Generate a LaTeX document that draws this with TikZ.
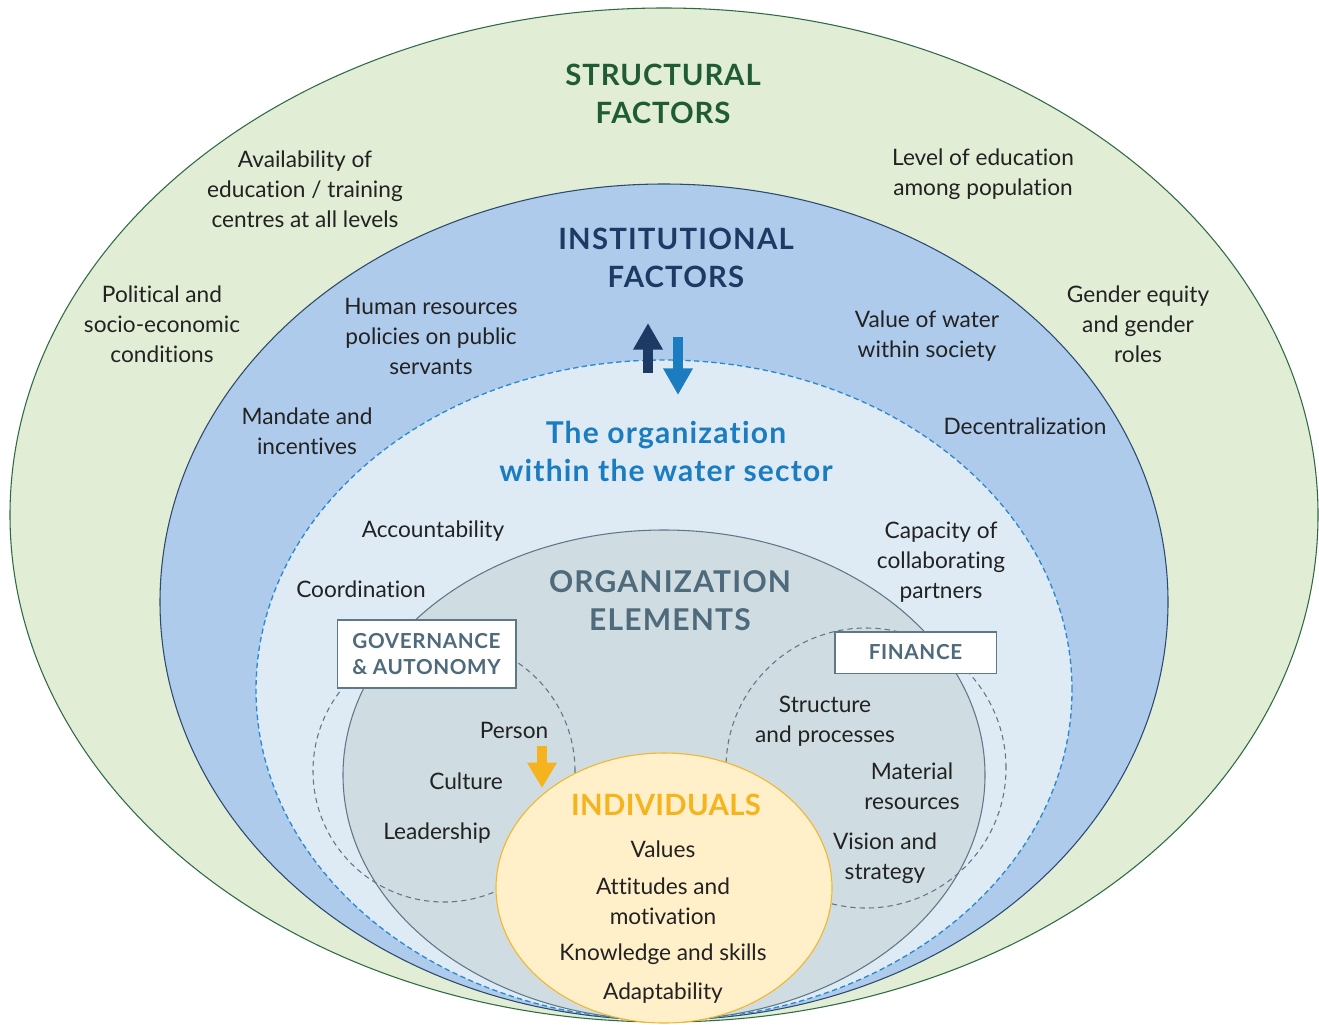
\documentclass[tikz,border=0pt]{standalone}
\usepackage{fontspec}
\setmainfont{Lato}[Ligatures=NoCommon]
\usetikzlibrary{arrows.meta}

\definecolor{structFill}{HTML}{E2EDD6}
\definecolor{structLine}{HTML}{2E6B45}
\definecolor{structText}{HTML}{1F5C36}
\definecolor{instFill}{HTML}{AFCBEC}
\definecolor{instLine}{HTML}{2B4A6E}
\definecolor{instText}{HTML}{1C3A63}
\definecolor{orgFill}{HTML}{DEEBF5}
\definecolor{orgLine}{HTML}{2A8AD0}
\definecolor{orgText}{HTML}{1B7DC0}
\definecolor{elemFill}{HTML}{CFDCE1}
\definecolor{elemLine}{HTML}{5F7888}
\definecolor{elemText}{HTML}{4E6A7B}
\definecolor{indFill}{HTML}{FFF0CA}
\definecolor{indLine}{HTML}{F5B52A}
\definecolor{indText}{HTML}{F5B31E}
\definecolor{bodyText}{HTML}{222222}

\tikzset{
  label text/.style={align=center, text=bodyText, font=\fontsize{17}{22.5}\selectfont, inner sep=0pt},
  title text/.style={align=center, font=\fontsize{22.5}{28.5}\selectfont\bfseries\addfontfeatures{LetterSpace=4}, inner sep=0pt},
  element box/.style={draw=elemLine, line width=1pt, fill=white, text=elemText, align=center,
    font=\fontsize{15.5}{19}\selectfont\bfseries\addfontfeatures{LetterSpace=3}, inner sep=0pt},
  ring/.style={line width=0.8pt},
  sub circle/.style={draw=elemLine, line width=0.8pt, dash pattern=on 4pt off 3pt},
  flow arrow/.style={line width=7.5pt, -{Triangle[width=21pt,length=20pt]}},
}

\begin{document}
\begin{tikzpicture}[x=0.75pt, y=-0.75pt]
\useasboundingbox (0,0) rectangle (1319,1024);
\fill[white] (0,0) rectangle (1319,1024);

% nested factor levels
\draw[ring, fill=structFill, draw=structLine] (664,515) ellipse [x radius=490.5pt, y radius=380.25pt];
\draw[ring, fill=instFill, draw=instLine] (664,602) ellipse [x radius=378pt, y radius=313.5pt];
\draw[line width=1pt, fill=orgFill, draw=orgLine, dash pattern=on 4pt off 2.5pt] (664,690) ellipse [x radius=306pt, y radius=247.5pt];
\draw[ring, fill=elemFill, draw=elemLine] (664,775) ellipse [x radius=240.75pt, y radius=183.75pt];

% element groups
\draw[sub circle] (444,771) circle [radius=98.25pt];
\draw[sub circle] (866,768) circle [radius=105pt];

% individuals
\draw[ring, fill=indFill, draw=indLine] (664,888) ellipse [x radius=126pt, y radius=101.25pt];

% level titles
\node[title text, text=structText, font=\fontsize{22}{28.5}\selectfont\bfseries\addfontfeatures{LetterSpace=3}] (structTitle) at (663,94) {STRUCTURAL\\FACTORS};
\node[title text, text=instText, font=\fontsize{22}{28.5}\selectfont\bfseries\addfontfeatures{LetterSpace=4}] (instTitle) at (676,258) {INSTITUTIONAL\\FACTORS};
\node[title text, text=orgText] (orgTitle) at (666,451) {The organization\\within the water sector};
\node[title text, text=elemText] (elemTitle) at (670,601) {ORGANIZATION\\ELEMENTS};
\node[title text, text=indText, font=\fontsize{22}{28.5}\selectfont\bfseries\addfontfeatures{LetterSpace=1}] (indTitle) at (666,805) {INDIVIDUALS};

% structural factors
\node[label text] (avail) at (305,189) {Availability of\\education / training\\centres at all levels};
\node[label text] (level) at (983,174) {Level of education\\among population};
\node[label text] (polit) at (162,324) {Political and\\socio-economic\\conditions};
\node[label text] (gender) at (1138,324) {Gender equity\\and gender\\roles};

% institutional factors
\node[label text] (hr) at (431,336) {Human resources\\policies on public\\servants};
\node[label text] (value) at (927,336) {Value of water\\within society};
\node[label text] (mandate) at (307,431) {Mandate and\\incentives};
\node[label text] (decent) at (1025,426) {Decentralization};

% organization within the sector
\node[label text] (account) at (433,531) {Accountability};
\node[label text] (coord) at (361,589) {Coordination};
\node[label text] (capacity) at (941,562) {Capacity of\\collaborating\\partners};

% organization elements
\node[element box, minimum width=134pt, minimum height=51pt] (gov) at (426.5,654) {GOVERNANCE\\\& AUTONOMY};
\node[element box, minimum width=121pt, minimum height=31pt] (fin) at (915.5,652.5) {FINANCE};
\node[label text] (person) at (514,730) {Person};
\node[label text] (culture) at (466,781) {Culture};
\node[label text] (leader) at (437,833) {Leadership};
\node[label text] (struct) at (825,721) {Structure\\and processes};
\node[label text] (material) at (912,786) {Material\\resources};
\node[label text] (vision) at (885,858) {Vision and\\strategy};

% individuals
\node[label text] (values) at (663,849) {Values};
\node[label text] (attitudes) at (663,901) {Attitudes and\\motivation};
\node[label text] (knowledge) at (663,954) {Knowledge and skills};
\node[label text] (adapt) at (663,993) {Adaptability};

% interaction arrows
\coordinate (upFrom) at (648,373);
\coordinate (upTo) at (648,323);
\coordinate (downFrom) at (678,337);
\coordinate (downTo) at (678,395);
\coordinate (personFrom) at (542,746);
\coordinate (personTo) at (542,788);
\draw[flow arrow, draw=instText, fill=instText] (upFrom) -- (upTo);
\draw[flow arrow, draw=orgText, fill=orgText] (downFrom) -- (downTo);
\draw[flow arrow, draw=indText, fill=indText, -{Triangle[width=21pt,length=19pt]}] (personFrom) -- (personTo);
\end{tikzpicture}
\end{document}
